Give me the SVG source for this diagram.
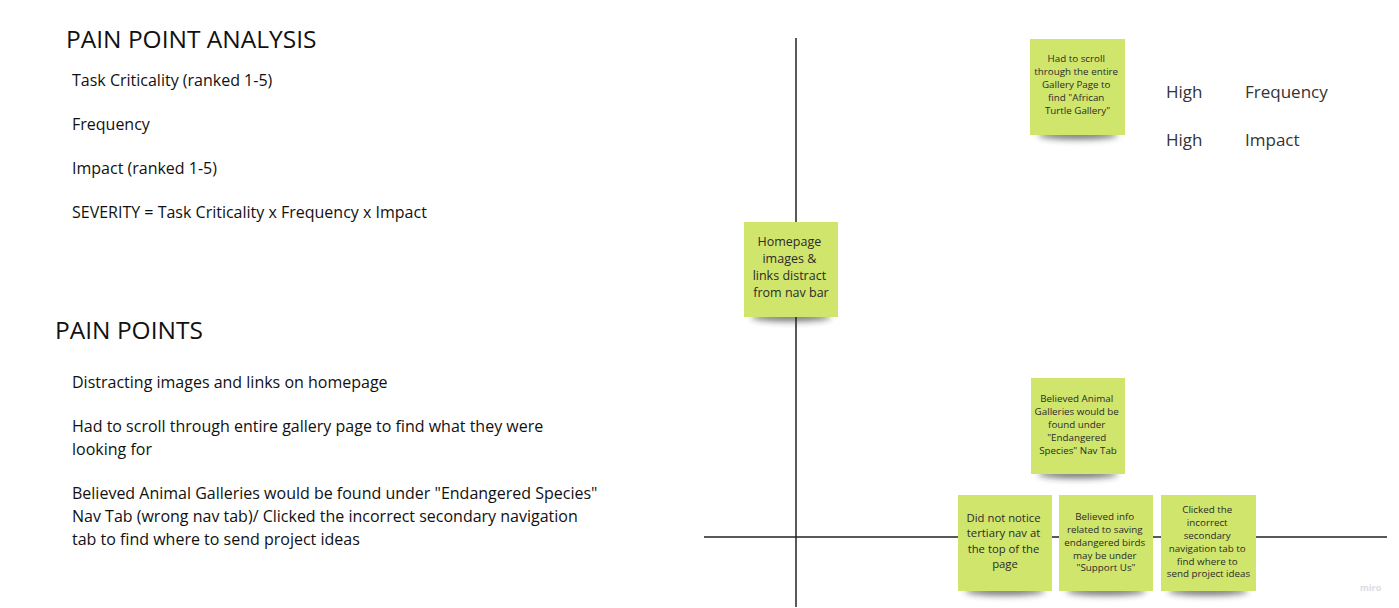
<svg xmlns="http://www.w3.org/2000/svg" width="1399" height="608" viewBox="0 0 1399 608">
  <defs>
    <filter id="shadow" x="-30%" y="-150%" width="160%" height="400%">
      <feGaussianBlur stdDeviation="3"/>
    </filter>
    <style>
      .heading { font-family: "Open Sans", "Noto Sans", sans-serif; font-size: 24.5px; fill: #111; }
      .body { font-family: "Open Sans", "Noto Sans", sans-serif; font-size: 16px; fill: #111; }
      .legend { font-family: "Open Sans", sans-serif; font-size: 17px; fill: #333; }
      .axis { stroke: #222; stroke-width: 1.5; fill: none; }
      .note { fill: #d0e56c; }
      .noteShadow { fill: #222; opacity: 0.6; filter: url(#shadow); }
      .noteText { font-family: "Open Sans", sans-serif; fill: #2b2b2b; text-anchor: middle; }
      .s10 { font-size: 9.8px; }
      .s12 { font-size: 11.3px; }
      .s13 { font-size: 12.5px; }
    </style>
  </defs>
  <rect width="1399" height="608" fill="#ffffff"/>

  <!-- Left column text -->
  <g id="analysis">
    <text class="heading" x="66" y="48">PAIN POINT ANALYSIS</text>
    <text class="body" x="72" y="86">Task Criticality (ranked 1-5)</text>
    <text class="body" x="72" y="130">Frequency</text>
    <text class="body" x="72" y="174">Impact (ranked 1-5)</text>
    <text class="body" x="72" y="218">SEVERITY = Task Criticality x Frequency x Impact</text>
  </g>
  <g id="pain-points">
    <text class="heading" x="55" y="339">PAIN POINTS</text>
    <text class="body" x="72" y="388">Distracting images and links on homepage</text>
    <text class="body" x="72" y="432">Had to scroll through entire gallery page to find what they were</text>
    <text class="body" x="72" y="455">looking for</text>
    <text class="body" x="72" y="499">Believed Animal Galleries would be found under "Endangered Species"</text>
    <text class="body" x="72" y="522">Nav Tab (wrong nav tab)/ Clicked the incorrect secondary navigation</text>
    <text class="body" x="72" y="545">tab to find where to send project ideas</text>
  </g>

  <!-- Axes -->
  <g id="connectors">
    <line class="axis" x1="796" y1="38" x2="796" y2="607"/>
    <line class="axis" x1="704" y1="537" x2="1387" y2="537"/>
  </g>

  <!-- Legend -->
  <g id="legend">
    <text class="legend" x="1166" y="98">High</text>
    <text class="legend" x="1245" y="98">Frequency</text>
    <text class="legend" x="1166" y="146">High</text>
    <text class="legend" x="1245" y="146">Impact</text>
  </g>

  <!-- Sticky notes -->
  <g id="note-gallery-scroll">
    <ellipse class="noteShadow" cx="1078" cy="135" rx="40" ry="4.5"/>
    <rect class="note" x="1030" y="39" width="95" height="96"/>
    <text class="noteText s10">
      <tspan x="1077.5" y="62">Had to scroll</tspan>
      <tspan x="1077.5" y="75">through the entire</tspan>
      <tspan x="1077.5" y="88">Gallery Page to</tspan>
      <tspan x="1077.5" y="101">find "African</tspan>
      <tspan x="1077.5" y="114">Turtle Gallery"</tspan>
    </text>
  </g>

  <g id="note-homepage">
    <ellipse class="noteShadow" cx="791" cy="317" rx="40" ry="4.5"/>
    <rect class="note" x="744" y="222" width="94" height="95"/>
    <text class="noteText s13">
      <tspan x="791" y="246">Homepage</tspan>
      <tspan x="791" y="263">images &amp;</tspan>
      <tspan x="791" y="280">links distract</tspan>
      <tspan x="791" y="297">from nav bar</tspan>
    </text>
  </g>

  <g id="note-endangered">
    <ellipse class="noteShadow" cx="1078" cy="474" rx="40" ry="4.5"/>
    <rect class="note" x="1031" y="378" width="94" height="96"/>
    <text class="noteText s10">
      <tspan x="1078" y="402">Believed Animal</tspan>
      <tspan x="1078" y="415">Galleries would be</tspan>
      <tspan x="1078" y="428">found under</tspan>
      <tspan x="1078" y="441">"Endangered</tspan>
      <tspan x="1078" y="454">Species" Nav Tab</tspan>
    </text>
  </g>

  <g id="note-tertiary">
    <ellipse class="noteShadow" cx="1005" cy="591" rx="40" ry="4.5"/>
    <rect class="note" x="958" y="495" width="94" height="96"/>
    <text class="noteText s12">
      <tspan x="1005" y="522">Did not notice</tspan>
      <tspan x="1005" y="537">tertiary nav at</tspan>
      <tspan x="1005" y="553">the top of the</tspan>
      <tspan x="1005" y="568">page</tspan>
    </text>
  </g>

  <g id="note-support">
    <ellipse class="noteShadow" cx="1106" cy="591" rx="40" ry="4.5"/>
    <rect class="note" x="1059" y="495" width="94" height="96"/>
    <text class="noteText s10">
      <tspan x="1106" y="520">Believed info</tspan>
      <tspan x="1106" y="533">related to saving</tspan>
      <tspan x="1106" y="546">endangered birds</tspan>
      <tspan x="1106" y="559">may be under</tspan>
      <tspan x="1106" y="571">"Support Us"</tspan>
    </text>
  </g>

  <g id="note-secondary">
    <ellipse class="noteShadow" cx="1208" cy="591" rx="40" ry="4.5"/>
    <rect class="note" x="1161" y="495" width="95" height="96"/>
    <text class="noteText s10">
      <tspan x="1208.5" y="513">Clicked the</tspan>
      <tspan x="1208.5" y="526">incorrect</tspan>
      <tspan x="1208.5" y="539">secondary</tspan>
      <tspan x="1208.5" y="552">navigation tab to</tspan>
      <tspan x="1208.5" y="565">find where to</tspan>
      <tspan x="1208.5" y="577">send project ideas</tspan>
    </text>
  </g>

  <text x="1360" y="591" font-family="Open Sans, sans-serif" font-size="9" font-weight="bold" fill="#dcdce4">miro</text>
</svg>
